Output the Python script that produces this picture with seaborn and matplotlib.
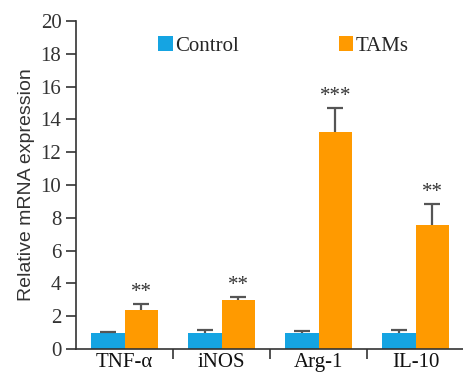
import numpy as np
import pandas as pd
import matplotlib
matplotlib.use("Agg")
import matplotlib.pyplot as plt
import seaborn as sns

genes = ["TNF-\u03b1", "iNOS", "Arg-1", "IL-10"]
groups = ["Control", "TAMs"]
control_mean = [1.0, 1.0, 1.0, 1.0]
control_err = [0.03, 0.13, 0.08, 0.13]
tams_mean = [2.35, 3.0, 13.25, 7.55]
tams_err = [0.38, 0.2, 1.45, 1.3]
stars = ["**", "**", "***", "**"]

sns.set_theme(style="ticks")
plt.rcParams["font.family"] = ["Liberation Serif", "DejaVu Serif"]

df = pd.DataFrame({
    "gene": genes * 2,
    "group": [groups[0]] * 4 + [groups[1]] * 4,
    "value": control_mean + tams_mean,
})
errs = control_err + tams_err

fig = plt.figure(figsize=(4.64, 3.79), dpi=100)
ax = fig.add_axes([0.1638, 0.0792, 0.8362, 0.8654])

sns.barplot(data=df, x="gene", y="value", hue="group", order=genes,
            hue_order=groups, palette=["#15A4E2", "#FF9A00"],
            width=0.7, errorbar=None, saturation=1, linewidth=0, ax=ax)

# upper error bars (cap on top only) + significance stars
bars = [p for p in ax.patches if p.get_height() > 0]
for i, p in enumerate(bars[:8]):
    xc = p.get_x() + p.get_width() / 2
    h = p.get_height()
    ax.errorbar(xc, h, yerr=[[0], [errs[i]]], fmt="none", ecolor="#555555",
                elinewidth=1.6, capsize=0)
    ax.plot(xc, h + errs[i], marker="_", ms=12, mew=1.6, color="#555555")
    if i >= 4:
        ax.text(xc, h + errs[i] + 0.12, stars[i - 4], ha="center", va="bottom",
                fontsize=15, color="#333333")

ax.set_ylim(0, 20)
ax.set_xlim(-0.5, 3.5)
ax.set_yticks(np.arange(0, 21, 2))
ax.tick_params(axis="y", labelsize=15, length=7, width=1.2, colors="#333333")
ax.tick_params(axis="x", which="major", length=0, labelsize=15, pad=3,
               colors="#111111")
ax.set_xticks([0.5, 1.5, 2.5], minor=True)
ax.tick_params(axis="x", which="minor", length=7, width=1.2, color="#333333")
ax.set_xlabel("")
ax.set_ylabel("Relative mRNA expression", fontsize=14, family="Liberation Sans",
              color="#333333", labelpad=4)
for s in ["top", "right"]:
    ax.spines[s].set_visible(False)
for s in ["left", "bottom"]:
    ax.spines[s].set_linewidth(1.2)
    ax.spines[s].set_color("#333333")

ax.legend(loc="upper left", bbox_to_anchor=(0.164, 1.01), ncol=2, frameon=False,
          fontsize=15, handlelength=0.7, handleheight=0.7, handletextpad=0.1,
          columnspacing=4.8)

fig.savefig("out.png", dpi=100)
